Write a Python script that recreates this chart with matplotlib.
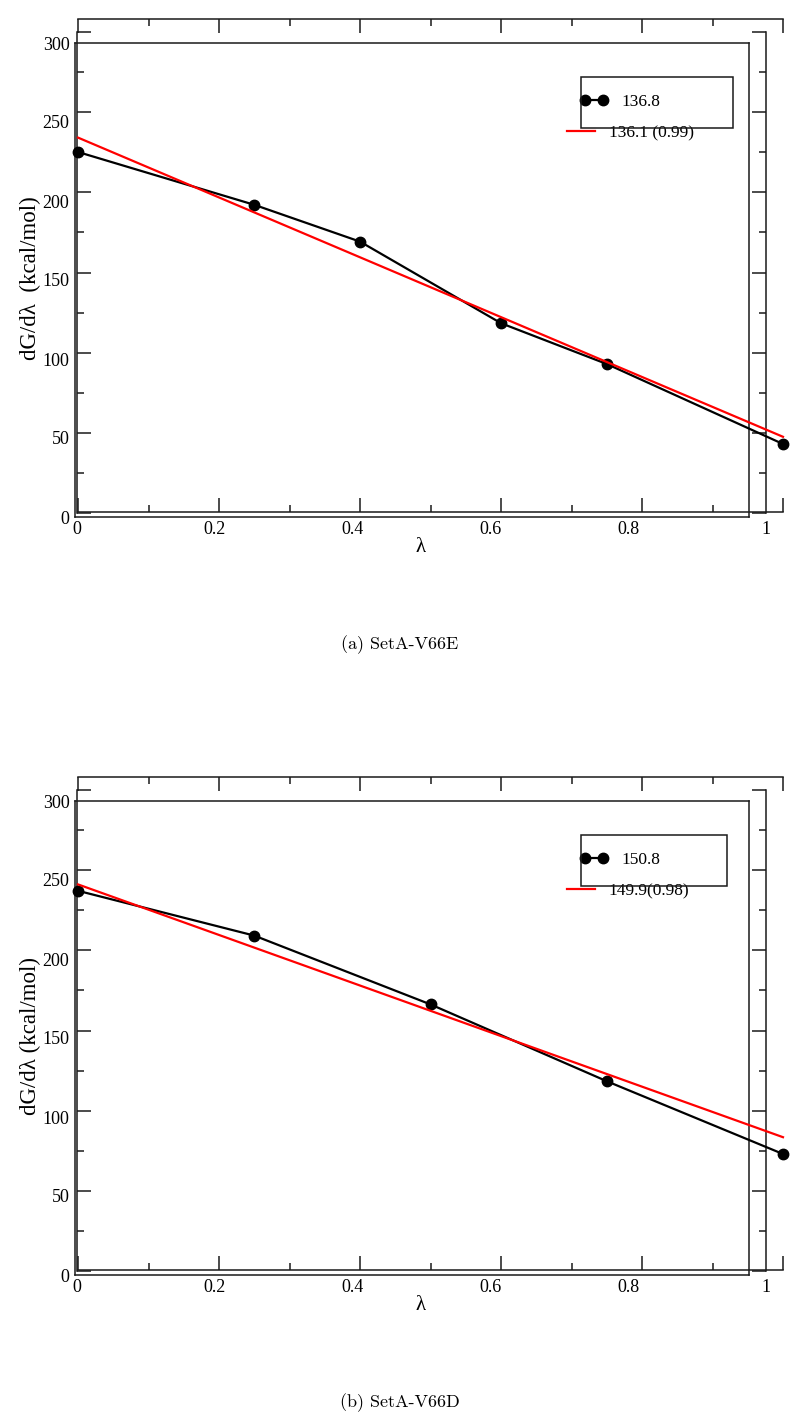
import matplotlib
matplotlib.use("Agg")
import matplotlib.pyplot as plt
from matplotlib.ticker import MultipleLocator
from matplotlib.patches import Rectangle

# data (lambda windows, dG/dlambda in kcal/mol)
lam_a = [0.0, 0.25, 0.4, 0.6, 0.75, 1.0]
dg_a = [225, 192, 169, 118, 92.5, 42.5]
lam_b = [0.0, 0.25, 0.5, 0.75, 1.0]
dg_b = [237, 209, 166, 118, 72.5]
fit_x = [0.0, 1.0]
fit_a = [234, 47]
fit_b = [241, 83]
labels_a = ['136.8', '136.1 (0.99)']
labels_b = ['150.8', '149.9(0.98)']
captions = ['(a) SetA-V66E', '(b) SetA-V66D']
ylabels = ['dG/d\u03bb  (kcal/mol)', 'dG/d\u03bb (kcal/mol)']
xticks = [0, 0.2, 0.4, 0.6, 0.8, 1]
xticklabels = ['0', '0.2', '0.4', '0.6', '0.8', '1']
yticks = [0, 50, 100, 150, 200, 250, 300]

W, H = 800, 1427
FONT = ['Liberation Serif', 'DejaVu Serif']
plt.rcParams['font.family'] = FONT

fig = plt.figure(figsize=(W / 100, H / 100), dpi=100)


def box(x0, y0, x1, y1):
    # pixel box (top-left origin) -> figure fraction rect
    return [x0 / W, 1 - y1 / H, (x1 - x0) / W, (y1 - y0) / H]


def panel(off, lam, dg, fit, labels, caption, ylabel, legw):
    lc = '#1a1a1a'
    # plain frame carrying the tick labels
    axb = fig.add_axes(box(75, 43 + off, 749, 517 + off), facecolor='none')
    axb.set_xlim(0, 1)
    axb.set_ylim(0, 300)
    axb.set_xticks([])
    axb.set_yticks(yticks)
    axb.tick_params(axis='y', length=0, pad=4, labelsize=13)
    for s in axb.spines.values():
        s.set_linewidth(1.1)
        s.set_color(lc)

    # y axes with inward ticks (left and right)
    axy = fig.add_axes(box(77, 32 + off, 766, 513 + off), facecolor='none')
    axy.set_ylim(0, 300)
    axy.set_xlim(0, 1)
    axy.yaxis.set_major_locator(MultipleLocator(50))
    axy.yaxis.set_minor_locator(MultipleLocator(25))
    axy.tick_params(axis='y', which='both', direction='in', left=True, right=True,
                    labelleft=False, width=1.1, color=lc)
    axy.tick_params(axis='y', which='major', length=10)
    axy.tick_params(axis='y', which='minor', length=5)
    axy.set_xticks(xticks)
    axy.set_xticklabels(xticklabels)
    axy.tick_params(axis='x', length=0, pad=6, labelsize=13)
    axy.spines['top'].set_visible(False)
    axy.spines['bottom'].set_visible(False)
    for s in ('left', 'right'):
        axy.spines[s].set_linewidth(1.1)
        axy.spines[s].set_color(lc)

    # x axes (top and bottom) carrying the data
    ytop = 300 * (512 - 19) / (512 - 32)
    ax = fig.add_axes(box(78, 19 + off, 783, 512 + off), facecolor='none')
    ax.set_xlim(0, 1)
    ax.set_ylim(0, ytop)
    ax.set_yticks([])
    ax.xaxis.set_major_locator(MultipleLocator(0.2))
    ax.xaxis.set_minor_locator(MultipleLocator(0.1))
    ax.tick_params(axis='x', which='both', direction='in', top=True, bottom=True,
                   labelbottom=False, width=1.1, color=lc)
    ax.tick_params(axis='x', which='major', length=10)
    ax.tick_params(axis='x', which='minor', length=5)
    ax.spines['left'].set_visible(False)
    ax.spines['right'].set_visible(False)
    for s in ('top', 'bottom'):
        ax.spines[s].set_linewidth(1.1)
        ax.spines[s].set_color(lc)

    l1, = ax.plot(lam, dg, '-o', color='black', lw=1.6, ms=7.5, clip_on=False, zorder=3)
    l2, = ax.plot(fit_x, fit, '-', color='red', lw=1.6, clip_on=False, zorder=4)

    leg1 = ax.legend([l1], [labels[0]], loc='center left', frameon=False, numpoints=2,
                     bbox_to_anchor=(580 / W, 1 - (102 + off) / H),
                     bbox_transform=fig.transFigure, borderpad=0, borderaxespad=0,
                     handlelength=1.6, handletextpad=0.8, fontsize=12.5)
    ax.add_artist(leg1)
    ax.legend([l2], [labels[1]], loc='center left', frameon=False,
              bbox_to_anchor=(567 / W, 1 - (133 + off) / H),
              bbox_transform=fig.transFigure, borderpad=0, borderaxespad=0,
              handlelength=1.6, handletextpad=0.8, fontsize=12.5)
    fig.add_artist(Rectangle((581 / W, 1 - (128 + off) / H), legw / W, 51 / H,
                             transform=fig.transFigure, fill=False, lw=1.1, ec=lc))

    fig.text(421 / W, 1 - (547 + off) / H, '\u03bb', ha='center', va='center', fontsize=15)
    fig.text(30 / W, 1 - (278 + off) / H, ylabel, ha='center', va='center',
             rotation=90, fontsize=16.5)
    fig.text(400 / W, 1 - (645 + off) / H, caption, ha='center', va='center',
             fontsize=13, family=['cmr10', 'DejaVu Serif'])


panel(0, lam_a, dg_a, fit_a, labels_a, captions[0], ylabels[0], 152)
panel(758, lam_b, dg_b, fit_b, labels_b, captions[1], ylabels[1], 146)

fig.savefig('out.png', dpi=100)
